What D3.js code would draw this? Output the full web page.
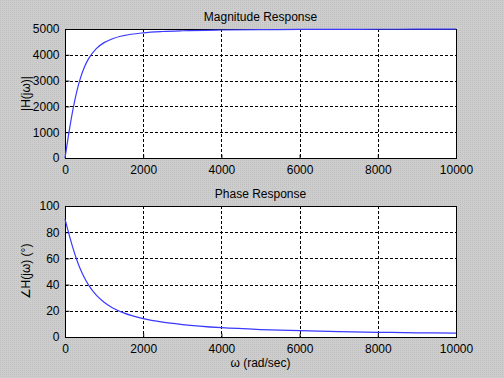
<!DOCTYPE html>
<html>
<head>
<meta charset="utf-8">
<script src="https://cdn.jsdelivr.net/npm/d3@7"></script>
<style>
  body { margin: 0; background: #c8c8c8; }
  svg { display: block; }
  text { font-family: "Liberation Sans", Arial, sans-serif; font-size: 12px; fill: #000; }
</style>
</head>
<body>
<script>
// values
var omega = [0, 100, 200, 300, 400, 500, 600, 800, 1000, 1200, 1500, 2000, 2500, 3000, 4000, 5000, 6000, 7000, 8000, 9000, 10000];
var magnitude = [0, 981, 1857, 2572, 3123, 3536, 3841, 4240, 4472, 4615, 4743, 4851, 4903, 4932, 4961, 4975, 4983, 4987, 4990, 4992, 4994];
var phase = [90, 78.7, 68.2, 59.0, 51.3, 45, 39.8, 32, 26.6, 22.6, 18.4, 14.0, 11.3, 9.5, 7.1, 5.7, 4.8, 4.1, 3.6, 3.2, 2.9];

var xTicks = [0, 2000, 4000, 6000, 8000, 10000];
var magTicks = [0, 1000, 2000, 3000, 4000, 5000];
var phaseTicks = [0, 20, 40, 60, 80, 100];

var W = 504, H = 378;
var svg = d3.select("body").append("svg")
  .attr("width", W)
  .attr("height", H)

// dotted gray figure background
var pat = svg.append("defs").append("pattern")
  .attr("id", "dots").attr("width", 2).attr("height", 2)
  .attr("patternUnits", "userSpaceOnUse")
pat.append("rect").attr("width", 2).attr("height", 2).attr("fill", "#cdcdcd")
pat.append("rect").attr("width", 1).attr("height", 1).attr("fill", "#c0c0c0")
svg.append("rect").attr("width", W).attr("height", H).attr("fill", "url(#dots)")

var left = 65, right = 456;

function panel(top, bottom, yDomain, yTicks, ys, title, ylabel) {
  var x = d3.scaleLinear().domain([0, 10000]).range([left, right]);
  var y = d3.scaleLinear().domain(yDomain).range([bottom, top]);
  var g = svg.append("g");

  g.append("rect")
    .attr("x", left).attr("y", top)
    .attr("width", right - left).attr("height", bottom - top)
    .attr("fill", "#fff")

  // grid
  g.append("g").selectAll("line.gx")
    .data(xTicks.slice(1, -1))
    .enter().append("line")
    .attr("x1", function(d){ return Math.round(x(d)) + 0.5 })
    .attr("x2", function(d){ return Math.round(x(d)) + 0.5 })
    .attr("y1", top).attr("y2", bottom)
    .attr("stroke", "#000").attr("stroke-dasharray", "3,2")
  g.append("g").selectAll("line.gy")
    .data(yTicks.slice(1, -1))
    .enter().append("line")
    .attr("y1", function(d){ return Math.round(y(d)) + 0.5 })
    .attr("y2", function(d){ return Math.round(y(d)) + 0.5 })
    .attr("x1", left).attr("x2", right)
    .attr("stroke", "#000").attr("stroke-dasharray", "3,2")

  // axes with inward ticks
  var xAxis = g.append("g").attr("transform", "translate(0," + (bottom + 0.5) + ")")
    .call(d3.axisBottom(x).tickValues(xTicks).tickSize(-4).tickPadding(7).tickFormat(d3.format("d")))
  var yAxis = g.append("g").attr("transform", "translate(" + (left + 0.5) + ",0)")
    .call(d3.axisLeft(y).tickValues(yTicks).tickSize(-4).tickPadding(6).tickFormat(d3.format("d")))
  ;[xAxis, yAxis].forEach(function(a) {
    a.select(".domain").remove()
    a.selectAll("text").style("font-family", "Liberation Sans, Arial, sans-serif").style("font-size", "12px")
  })

  g.append("rect")
    .attr("x", left + 0.5).attr("y", top + 0.5)
    .attr("width", right - left).attr("height", bottom - top)
    .attr("fill", "none").attr("stroke", "#000")

  var line = d3.line()
    .x(function(d, i){ return x(omega[i]) })
    .y(function(d){ return y(d) })
    .curve(d3.curveMonotoneX)
  g.append("path")
    .attr("d", line(ys))
    .attr("fill", "none")
    .attr("stroke", "#3a3aff")
    .attr("stroke-width", 1.2)

  g.append("text")
    .attr("x", (left + right) / 2).attr("y", top - 8)
    .attr("text-anchor", "middle")
    .text(title)

  g.append("text")
    .attr("transform", "translate(" + (left - 35) + "," + ((top + bottom) / 2) + ") rotate(-90)")
    .attr("text-anchor", "middle")
    .text(ylabel)
}

panel(29, 158, [0, 5000], magTicks, magnitude, "Magnitude Response", "|H(jω)|")
panel(206, 337, [0, 100], phaseTicks, phase, "Phase Response", "∠H(jω) (°)")

svg.append("text")
  .attr("x", (left + right) / 2).attr("y", 367)
  .attr("text-anchor", "middle")
  .text("ω (rad/sec)")
</script>
</body>
</html>
